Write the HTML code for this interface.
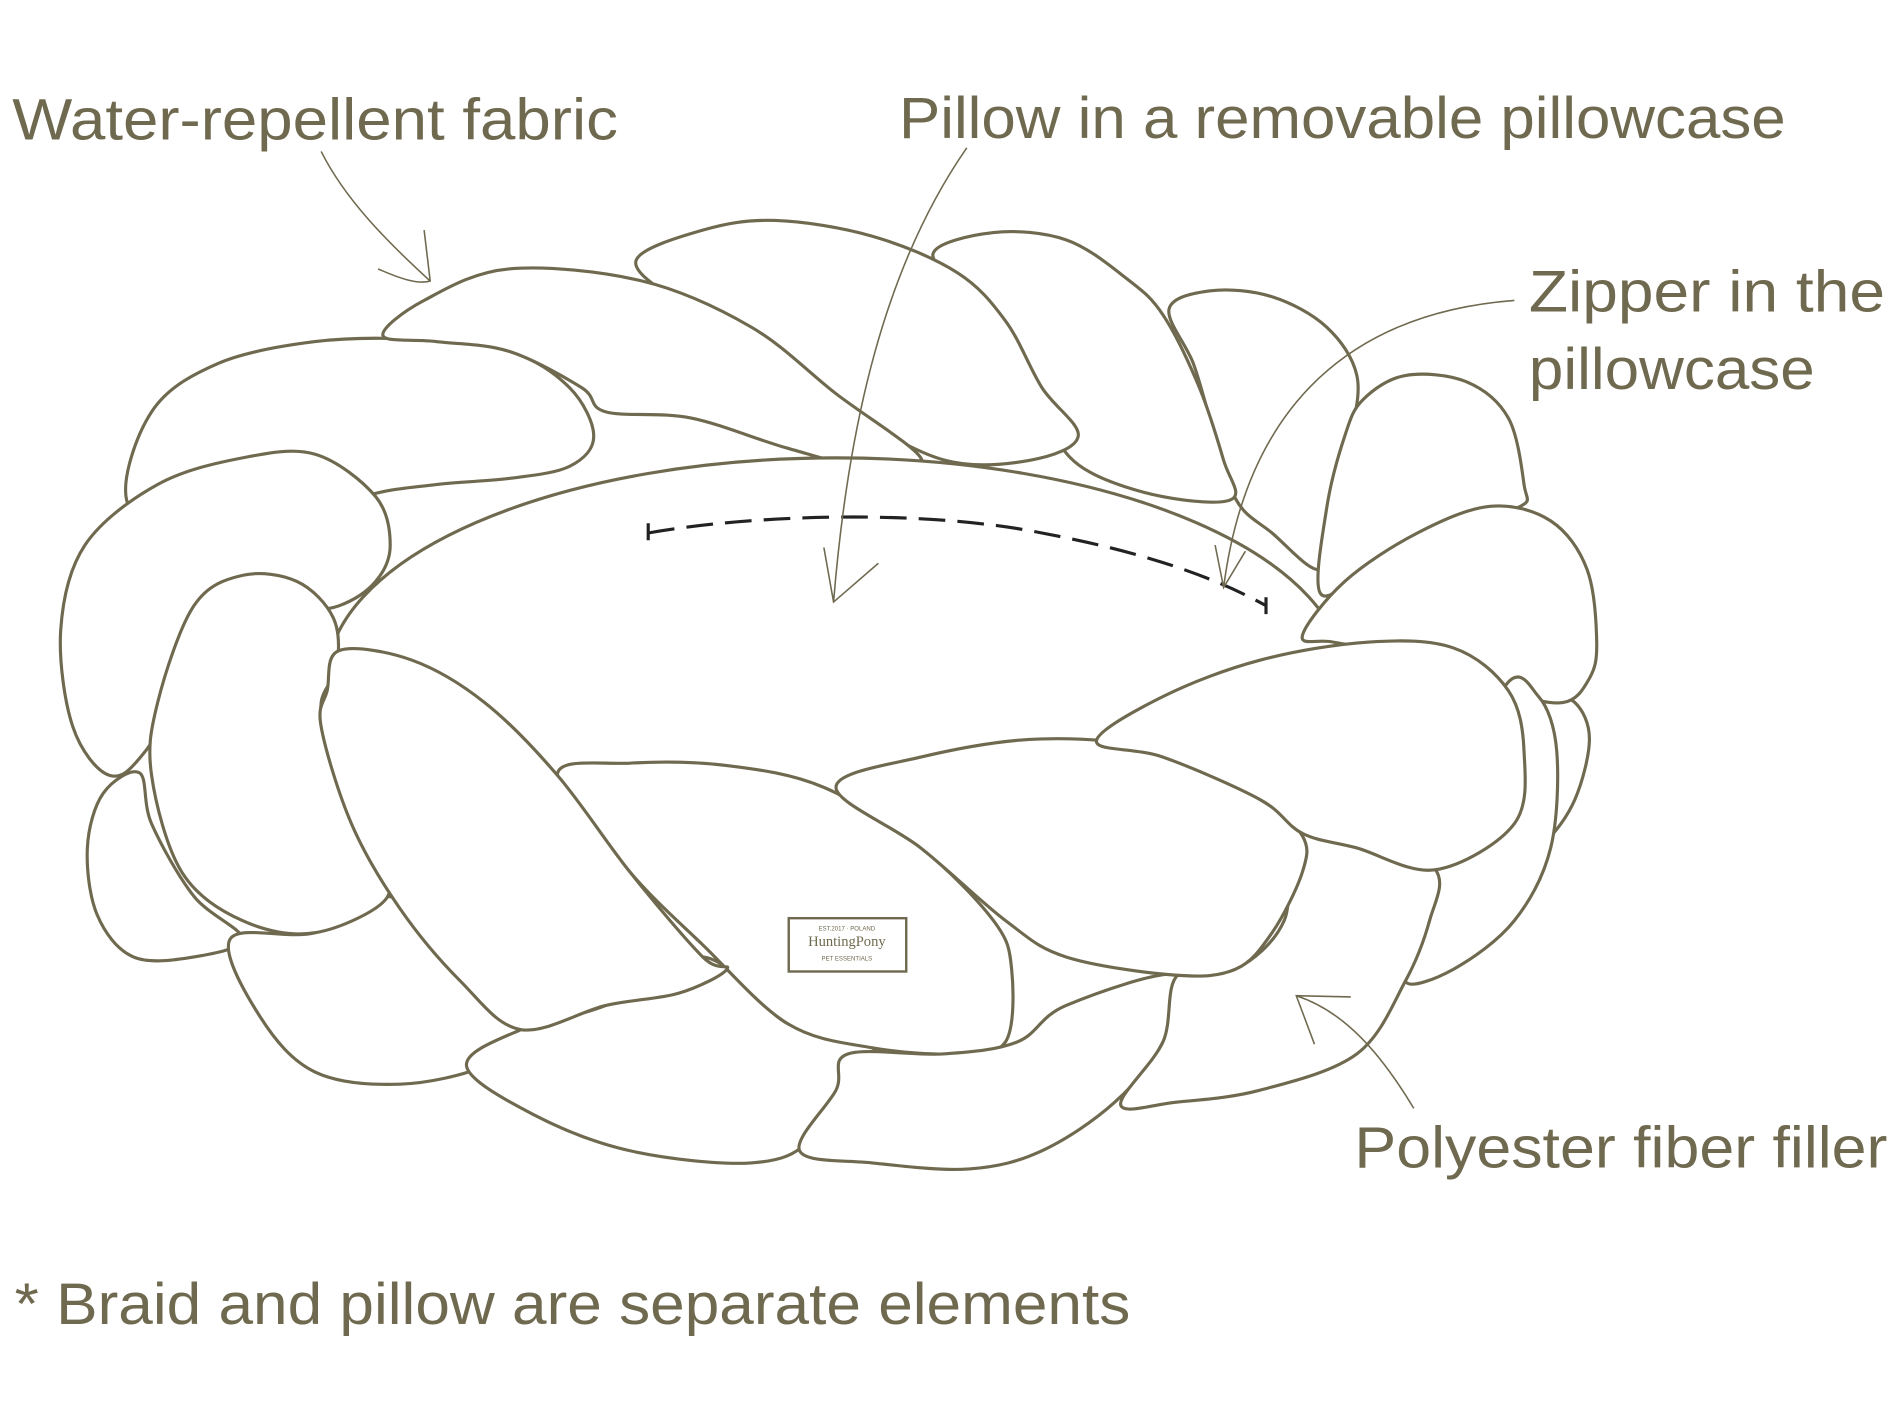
<!DOCTYPE html>
<html><head><meta charset="utf-8">
<style>
html,body{margin:0;padding:0;background:#fff;}
svg{display:block;}
text{font-family:"Liberation Sans",sans-serif;fill:#6f6a4f;font-size:48px;font-weight:300;}
</style></head>
<body>
<svg id="s" width="1890" height="1410" viewBox="0 0 1560 1164" xmlns="http://www.w3.org/2000/svg">
<g id="back" fill="#fff" stroke="#6f6a4f" stroke-width="2.6" stroke-linejoin="round"></g>
<ellipse cx="690" cy="560" rx="420" ry="182" fill="#fff" stroke="#6f6a4f" stroke-width="2.6"/>
<path d="M535,440 C620,425 760,420 860,440 C940,455 1000,475 1045,500" fill="none" stroke="#222" stroke-width="2.6" stroke-dasharray="22,10"/>
<path d="M535,432 L535,446 M1045,493 L1045,507" stroke="#222" stroke-width="2.6"/>
<g id="front" fill="#fff" stroke="#6f6a4f" stroke-width="2.6" stroke-linejoin="round"></g>
<rect x="651" y="758" width="97" height="44" fill="#fff" stroke="#6f6a4f" stroke-width="2"/>
<text x="699" y="768" text-anchor="middle" style="font-size:5px">EST.2017 · POLAND</text>
<text x="699" y="781" text-anchor="middle" style="font-size:12px;font-family:'Liberation Serif',serif">HuntingPony</text>
<text x="699" y="793" text-anchor="middle" style="font-size:5px">PET ESSENTIALS</text>
<g fill="none" stroke="#6f6a4f" stroke-width="1.3">
<path d="M265,125 C285,165 320,200 355,232 M312,222 C330,230 345,235 355,232 L350,190"/>
<path d="M798,122 C730,220 700,350 688,497 M680,452 L688,497 L725,465"/>
<path d="M1250,248 C1120,258 1030,330 1010,485 M1003,450 L1010,485 L1028,455"/>
<path d="M1167,915 C1140,870 1110,835 1070,822 M1115,823 L1070,822 L1085,862"/>
</g>
<text x="10" y="115" textLength="500" lengthAdjust="spacingAndGlyphs">Water-repellent fabric</text>
<text x="742" y="114" textLength="732" lengthAdjust="spacingAndGlyphs">Pillow in a removable pillowcase</text>
<text x="1262" y="257" textLength="294" lengthAdjust="spacingAndGlyphs">Zipper in the</text>
<text x="1262" y="321" textLength="236" lengthAdjust="spacingAndGlyphs">pillowcase</text>
<text x="1118" y="964" textLength="440" lengthAdjust="spacingAndGlyphs">Polyester fiber filler</text>
<text x="12" y="1093" textLength="921" lengthAdjust="spacingAndGlyphs">* Braid and pillow are separate elements</text>
</svg>
<script>
function cr(p){var n=p.length,d="M"+p[0][0]+","+p[0][1];for(var i=0;i<n;i++){var p0=p[(i-1+n)%n],p1=p[i],p2=p[(i+1)%n],p3=p[(i+2)%n];var c1=[p1[0]+(p2[0]-p0[0])/6,p1[1]+(p2[1]-p0[1])/6],c2=[p2[0]-(p3[0]-p1[0])/6,p2[1]-(p3[1]-p1[1])/6];d+=" C"+c1[0].toFixed(1)+","+c1[1].toFixed(1)+" "+c2[0].toFixed(1)+","+c2[1].toFixed(1)+" "+p2[0]+","+p2[1];}return d+"Z";}
var NS="http://www.w3.org/2000/svg";
function add(g,list){var el=document.getElementById(g);list.forEach(function(p){var e=document.createElementNS(NS,"path");e.setAttribute("d",cr(p));el.appendChild(e);});}
add("back",[
[[965,255],[1000,240],[1050,245],[1095,270],[1120,310],[1115,360],[1100,420],[1090,470],[1050,440],[1020,412],[1000,350],[985,300]],
[[770,210],[820,192],[880,198],[930,230],[960,260],[990,320],[1010,380],[1017,412],[960,410],[900,390],[870,360],[840,300],[810,250]],
[[525,215],[580,190],[640,182],[720,195],[790,225],[830,265],[860,320],[890,360],[850,380],[780,380],[700,340],[620,290],[560,250]],
[[105,415],[125,340],[180,300],[260,282],[340,280],[420,290],[470,320],[490,360],[470,385],[420,395],[360,400],[300,410],[230,440],[160,450]],
[[316,277],[350,248],[420,222],[530,232],[620,270],[690,325],[760,378],[730,390],[650,370],[570,345],[500,340],[480,320],[420,290],[360,282]]
]);
add("front",[
[[1125,330],[1160,310],[1210,315],[1245,345],[1258,400],[1255,418],[1200,430],[1130,470],[1090,490],[1095,420],[1110,360]],
[[1240,570],[1275,575],[1300,580],[1312,610],[1300,660],[1275,695],[1250,700],[1250,640]],
[[1075,525],[1110,480],[1170,440],[1230,418],[1280,430],[1310,470],[1318,530],[1312,560],[1290,580],[1240,570],[1150,540],[1100,530]],
[[50,520],[70,450],[130,400],[200,378],[260,375],[310,410],[322,450],[310,480],[280,500],[230,510],[170,540],[120,620],[90,640],[60,600]],
[[72,700],[85,655],[115,638],[125,680],[160,740],[200,775],[160,790],[110,790],[80,755]],
[[190,775],[260,770],[320,740],[380,780],[430,850],[400,880],[330,895],[260,885],[215,840]],
[[125,640],[130,580],[160,500],[200,475],[245,480],[275,510],[278,550],[265,580],[270,620],[300,700],[320,740],[260,770],[200,760],[150,720]],
[[385,880],[430,850],[500,830],[580,790],[650,845],[720,865],[700,880],[670,940],[620,960],[520,950],[440,920]],
[[460,640],[520,630],[600,632],[680,650],[760,700],[820,760],[835,800],[830,860],[790,870],[720,865],[650,845],[580,780],[520,720]],
[[280,537],[340,545],[400,580],[460,640],[520,720],[580,790],[600,800],[560,820],[500,830],[430,850],[380,810],[330,750],[290,680],[265,600],[270,570]],
[[700,870],[780,870],[840,860],[880,830],[972,805],[960,860],[920,910],[860,950],[800,965],[720,960],[660,950],[690,900]],
[[1185,718],[1240,570],[1270,575],[1285,620],[1280,700],[1250,760],[1200,800],[1160,810],[1180,760]],
[[1070,688],[1130,688],[1185,718],[1180,760],[1160,810],[1120,870],[1040,900],[970,910],[925,912],[960,860],[972,805],[1020,800],[1060,760]],
[[690,650],[760,625],[860,610],[960,620],[1040,660],[1075,690],[1075,720],[1050,770],[1020,800],[970,805],[880,790],[830,760],[760,700]],
[[905,612],[960,575],[1040,545],[1130,530],[1200,535],[1245,570],[1258,620],[1250,680],[1185,718],[1120,700],[1075,688],[1040,660],[960,625]]
]);
</script>
</body></html>
